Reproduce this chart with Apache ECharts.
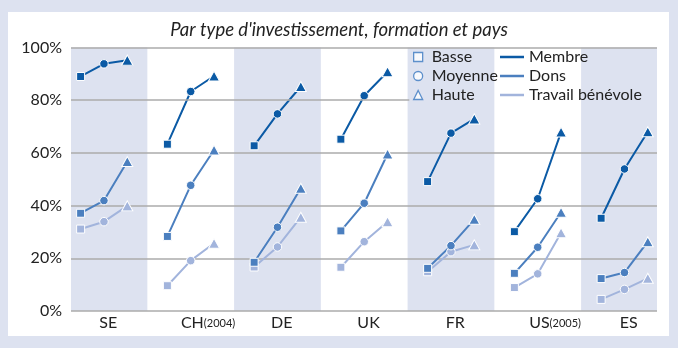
<!DOCTYPE html>
<html><head><meta charset="utf-8">
<script src="https://cdn.jsdelivr.net/npm/echarts@6/dist/echarts.min.js"></script>
<style>
html,body{margin:0;padding:0;background:#dde2f0;width:678px;height:348px;overflow:hidden;}
#panel{position:absolute;left:8px;top:12px;width:661px;height:324px;background:#fff;}
#chart{position:absolute;left:0;top:0;width:678px;height:348px;}
</style></head><body>
<div id="panel"></div><div id="chart"></div>
<script>
// ---- data ----
const countries = ['SE', 'CH', 'DE', 'UK', 'FR', 'US', 'ES'];
const countryNotes = ['', '(2004)', '', '', '', '(2005)', ''];
const levels = ['Basse', 'Moyenne', 'Haute'];
const metricNames = ['Membre', 'Dons', 'Travail bénévole'];
const yTicks = [0, 20, 40, 60, 80, 100];
// values per country: [Basse, Moyenne, Haute]
const membre = [
  [89.0, 93.8, 95.2], [63.3, 83.3, 89.2], [62.7, 74.8, 85.2], [65.2, 81.7, 90.8],
  [49.1, 67.5, 72.9], [30.1, 42.6, 67.9], [35.2, 53.9, 68.0]
];
const dons = [
  [37.1, 41.9, 56.7], [28.3, 47.7, 61.1], [18.5, 31.8, 46.6], [30.4, 40.9, 59.6],
  [16.2, 24.8, 34.8], [14.3, 24.2, 37.5], [12.3, 14.6, 26.3]
];
const travail = [
  [31.1, 33.9, 39.9], [9.6, 19.1, 25.7], [16.7, 24.3, 35.6], [16.6, 26.3, 33.9],
  [14.9, 22.5, 25.1], [8.9, 14.1, 29.7], [4.4, 8.2, 12.4]
];

// ---- styling / layout ----
const FONT = 'Lato';
const metricValues = [membre, dons, travail];
const metricColors = ['#0b5aa5', '#4b7fbf', '#a2b4dc'];
const symbols = ['rect', 'circle', 'triangle'];
const symbolSizes = [8, 8.5, [11, 10]];
const spread = 0.269;
const xMin = -0.38, xMax = 6.375;
const labelShift = 0.05;
const gridBreakX = 3.52;
const bandColor = '#dde2f0';
const gridColor = '#ababab';
const textColor = '#222';

const series = [];
// shaded bands
const bandData = [];
countries.forEach((c, i) => {
  if (i % 2 === 0) {
    bandData.push([{ xAxis: Math.max(i - 0.5, xMin) }, { xAxis: Math.min(i + 0.5, xMax) }]);
  }
});
series.push({
  type: 'line', name: '_bands', data: [], z: 1, silent: true,
  markArea: { silent: true, itemStyle: { color: bandColor }, data: bandData }
});
// partial 80% gridline (hidden behind legend area)
series.push({
  type: 'line', name: '_grid', data: [], z: 1.5, silent: true,
  markLine: {
    silent: true, symbol: ['none', 'none'], label: { show: false },
    lineStyle: { color: gridColor, width: 1.5, type: 'solid' },
    data: [[{ coord: [xMin, 80] }, { coord: [gridBreakX, 80] }]]
  }
});
// legend dummies for levels
levels.forEach((l) => series.push({ type: 'scatter', name: l, data: [] }));

// data series: draw lightest first
[2, 1, 0].forEach((k) => {
  countries.forEach((c, i) => {
    series.push({
      type: 'line', name: metricNames[k], z: 2,
      lineStyle: { color: metricColors[k], width: 2 },
      itemStyle: { color: metricColors[k], borderColor: '#fff', borderWidth: 1 },
      showAllSymbol: true,
      data: levels.map((l, j) => ({
        value: [i + (j - 1) * spread, metricValues[k][i][j]],
        symbol: symbols[j], symbolSize: symbolSizes[j]
      }))
    });
  });
});

const chart = echarts.init(document.getElementById('chart'), null, { renderer: 'canvas' });
chart.setOption({
  animation: false,
  backgroundColor: 'transparent',
  title: {
    text: "Par type d'investissement, formation et pays",
    left: 'center', top: 16,
    textStyle: { fontFamily: FONT, fontStyle: 'italic', fontWeight: 'normal', fontSize: 18.5, color: textColor }
  },
  grid: { left: 71, right: 21, top: 47.5, bottom: 37 },
  legend: [
    {
      selectedMode: false, orient: 'vertical', left: 408, top: 43, itemGap: 1,
      itemWidth: 9, itemHeight: 9,
      textStyle: { fontFamily: FONT, fontSize: 16, color: textColor, lineHeight: 18, padding: [0, 0, 0, 4] },
      data: levels.map((l, j) => ({
        name: l, icon: symbols[j],
        itemStyle: { color: '#fff', borderColor: '#3a78c0', borderWidth: 1.3 }
      }))
    },
    {
      selectedMode: false, orient: 'vertical', left: 495, top: 43, itemGap: 1,
      itemWidth: 24, itemHeight: 2.5, icon: 'rect',
      textStyle: { fontFamily: FONT, fontSize: 16, color: textColor, lineHeight: 18 },
      data: metricNames.map((n, k) => ({
        name: n,
        itemStyle: { color: metricColors[k], borderWidth: 0, borderColor: metricColors[k] }
      }))
    }
  ],
  xAxis: {
    type: 'value', min: xMin, max: xMax,
    axisLine: { show: false }, axisTick: { show: false }, splitLine: { show: false },
    axisLabel: {
      customValues: countries.map((c, i) => i + labelShift),
      margin: 4,
      formatter: (v) => {
        const i = Math.round(v);
        const c = countries[i];
        if (c === undefined) return '';
        return countryNotes[i] ? '{p| }{m|' + c + '}{s|' + countryNotes[i] + '}' : '{m|' + c + '}';
      },
      rich: {
        m: { fontFamily: FONT, fontSize: 16, color: textColor },
        s: { fontFamily: FONT, fontSize: 11, color: textColor },
        p: { width: 26 }
      }
    }
  },
  yAxis: {
    type: 'value', min: yTicks[0], max: yTicks[yTicks.length - 1], interval: yTicks[1] - yTicks[0],
    z: 1.5,
    axisLine: { show: false }, axisTick: { show: false },
    axisLabel: { formatter: '{value}%', fontFamily: FONT, fontSize: 16, color: textColor, margin: 9 },
    splitLine: {
      lineStyle: {
        width: 1.5,
        color: yTicks.map((t) => (t === 80 ? 'rgba(0,0,0,0)' : gridColor))
      }
    }
  },
  series: series
});
</script>
</body></html>
